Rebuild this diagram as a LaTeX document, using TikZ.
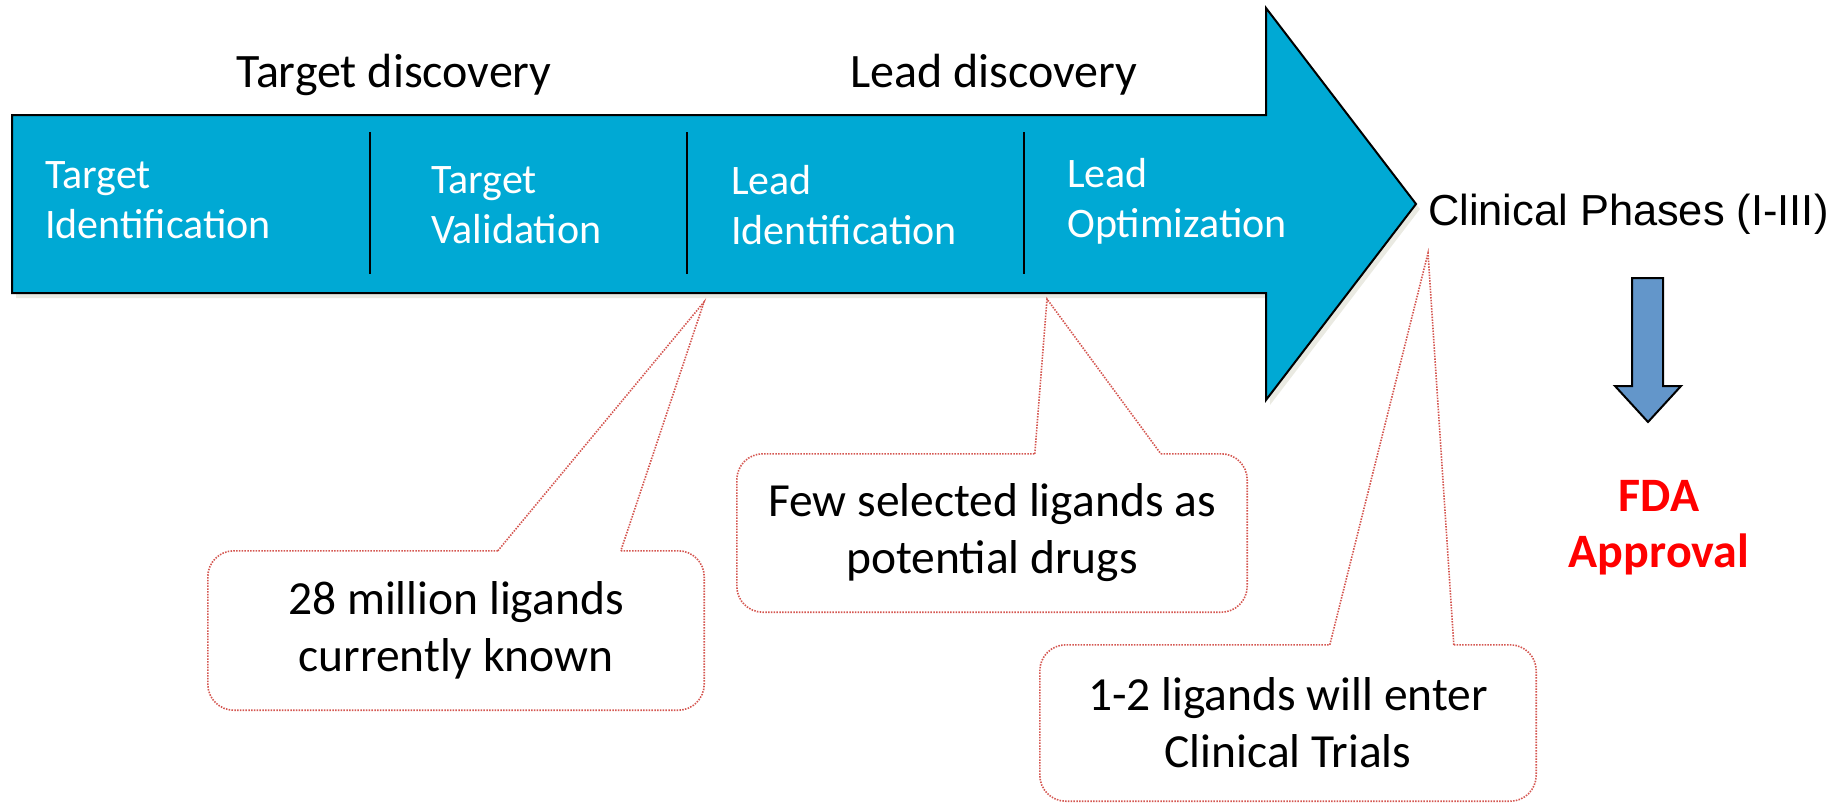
\documentclass[tikz,border=0pt]{standalone}
\usepackage{fontspec}
\setmainfont{Carlito}
\newfontfamily\arialfont{Liberation Sans}
\usepackage{tikz}
\usepackage{xcolor}

\definecolor{stageblue}{RGB}{0,169,212}
\definecolor{shadowgrey}{RGB}{234,234,226}
\definecolor{approvalblue}{RGB}{99,150,202}
\definecolor{notered}{RGB}{212,86,80}

\newcommand\stagefont{\fontsize{42}{50}\selectfont}
\newcommand\phasefont{\fontsize{48}{58}\selectfont}
\newcommand\notefont{\fontsize{47.5}{57}\selectfont}

\begin{document}
\begin{tikzpicture}[x=1pt, y=-1pt,
	stage/.style={anchor=west, inner sep=0pt, align=left, text=white, font=\stagefont},
	phase/.style={anchor=base, inner sep=0pt, font=\phasefont},
	notebox/.style={inner sep=0pt, align=center, font=\notefont},
	noteline/.style={draw=notered, line width=1.6pt, dash pattern=on 1.5pt off 1.3pt},
	divider/.style={black, line width=2pt}]
	\useasboundingbox (0,0) rectangle (1839,804);
	
	% Pipeline arrow
	\fill[shadowgrey, shift={(4,5)}] (12,115) -- (1266,115) -- (1266,8) -- (1416,204) -- (1266,400) -- (1266,293) -- (12,293) -- cycle;
	\draw[line width=2pt, fill=stageblue] (12,115) -- (1266,115) -- (1266,8) -- (1416,204) -- (1266,400) -- (1266,293) -- (12,293) -- cycle;
	\foreach \x in {370,687,1024}
		\draw[divider] (\x,132) -- (\x,274);
	
	% Stages
	\node[stage] (tid) at (45,200) {Target\\Identification};
	\node[stage] (tval) at (431,205) {Target\\Validation};
	\node[stage] (lid) at (731,205) {Lead\\Identification};
	\node[stage] (lopt) at (1067,201) {Lead\\Optimization};
	
	% Phases
	\node[phase] (tdisc) at (394,87) {Target discovery};
	\node[phase] (ldisc) at (994,87) {Lead discovery};
	\node[anchor=base west, inner sep=0pt, font=\arialfont\fontsize{43.4}{52}\selectfont] (clin) at (1428,225) {Clinical Phases (I-III)};
	
	% Approval
	\draw[line width=2pt, fill=approvalblue] (1632,278) -- (1663,278) -- (1663,386) -- (1681,386) -- (1648,422) -- (1615,386) -- (1632,386) -- cycle;
	\node[inner sep=0pt, align=center, text=red, font=\bfseries\fontsize{48}{56}\selectfont] (fda) at (1659,528) {FDA\\Approval};
	
	% Callout: ligands known
	\node[notebox, minimum width=496pt, minimum height=159pt] (known) at (456,630.5) {28 million ligands\\currently known};
	\coordinate (known-tip) at (704,302);
	\draw[noteline, rounded corners=26pt] ([xshift=413pt]known.north west) -- (known.north east) -- (known.south east) -- (known.south west) -- (known.north west) -- ([xshift=290pt]known.north west);
	\draw[noteline] ([xshift=290pt]known.north west) -- (known-tip) -- ([xshift=413pt]known.north west);
	
	% Callout: selected ligands
	\node[notebox, minimum width=510pt, minimum height=158pt] (few) at (992,533) {Few selected ligands as\\potential drugs};
	\coordinate (few-tip) at (1047,299);
	\draw[noteline, rounded corners=26pt] ([xshift=424pt]few.north west) -- (few.north east) -- (few.south east) -- (few.south west) -- (few.north west) -- ([xshift=298pt]few.north west);
	\draw[noteline] ([xshift=298pt]few.north west) -- (few-tip) -- ([xshift=424pt]few.north west);
	
	% Callout: clinical trials
	\node[notebox, minimum width=496pt, minimum height=156pt] (trials) at (1288,723) {1-2 ligands will enter\\Clinical Trials};
	\coordinate (trials-tip) at (1428,253);
	\draw[noteline, rounded corners=26pt] ([xshift=414pt]trials.north west) -- (trials.north east) -- (trials.south east) -- (trials.south west) -- (trials.north west) -- ([xshift=290pt]trials.north west);
	\draw[noteline] ([xshift=290pt]trials.north west) -- (trials-tip) -- ([xshift=414pt]trials.north west);
\end{tikzpicture}
\end{document}
